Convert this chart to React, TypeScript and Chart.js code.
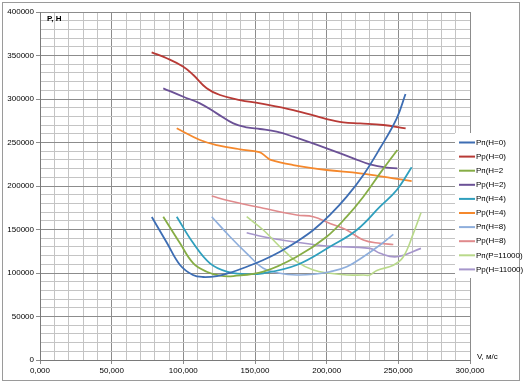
import React, { useEffect, useRef } from "react";
import { Chart, registerables } from "chart.js";

Chart.register(...registerables);

// ---- data (V in m/s units of the axis, P in N) ----
const V_PN_H0 = [78000, 88600, 97700, 106700, 113700, 123500, 132600, 144200, 155800, 167400, 179100, 190700, 202300, 214000, 225600, 237200, 248900, 255000];
const P_PN_H0 = [164400, 134500, 109200, 97700, 95400, 96500, 100300, 107200, 115000, 124500, 136000, 149400, 166700, 187700, 212600, 243300, 277800, 305700];

const V_PR_H0 = [77900, 88400, 100000, 107000, 116300, 125600, 139500, 153500, 176700, 200000, 211600, 223300, 239500, 255100];
const P_PR_H0 = [353600, 346800, 337100, 327600, 312300, 304600, 298800, 295000, 287300, 277000, 273200, 272000, 270100, 266300];

const V_PN_H2 = [86000, 97700, 107000, 116300, 125600, 134900, 155800, 179100, 200000, 214000, 225600, 237200, 249300];
const P_PN_H2 = [164700, 134100, 111100, 101500, 96900, 96500, 101500, 118700, 141700, 164700, 187700, 214500, 241400];

const V_PR_H2 = [86000, 100000, 111600, 123300, 134900, 144200, 153500, 165100, 176700, 200000, 218600, 230200, 241900, 249300];
const P_PR_H2 = [312300, 302600, 295000, 283500, 272000, 267400, 265500, 262500, 256700, 243300, 231800, 224900, 221000, 220300];

const V_PN_H4 = [95400, 107000, 118600, 130300, 141800, 155800, 179100, 202300, 221000, 237200, 248900, 259300];
const P_PN_H4 = [164700, 134100, 111100, 101500, 98800, 99700, 109200, 130200, 149400, 176200, 195400, 221500];

const V_PR_H4 = [95400, 111600, 123300, 139500, 153000, 157500, 161000, 176700, 200000, 223300, 246500, 259300];
const P_PR_H4 = [266300, 252900, 247100, 242100, 239000, 234000, 230000, 224100, 218400, 214500, 208800, 205700];

const V_PN_H8 = [119800, 132600, 144200, 155800, 167400, 179100, 190700, 202300, 214000, 225600, 237200, 246500];
const P_PN_H8 = [164700, 141700, 122600, 105400, 99700, 97700, 98500, 101500, 107200, 118700, 132200, 144500];

const V_PR_H8 = [119800, 132600, 155800, 179100, 190700, 202300, 214000, 225600, 237200, 246500];
const P_PR_H8 = [188500, 182700, 174400, 166700, 164700, 157000, 149400, 137900, 134100, 132800];

const V_PN_H11 = [144200, 155800, 167400, 179100, 190700, 202300, 214000, 225600, 230200, 235000, 246500, 253500, 260500, 265800];
const P_PN_H11 = [164700, 149400, 130200, 113000, 103400, 99700, 97700, 97700, 97700, 103000, 109000, 118700, 145500, 169300];

const V_PR_H11 = [144200, 155800, 176700, 200000, 230200, 237200, 248900, 265800];
const P_PR_H11 = [146300, 141700, 136000, 131000, 128300, 122600, 118700, 128300];

const SERIES_LABELS = [
  "Рп(Н=0)", "Рр(Н=0)", "Рп(Н=2", "Рр(Н=2)", "Рп(Н=4)",
  "Рр(Н=4)", "Рп(Н=8)", "Рр(Н=8)", "Рп(Р=11000)", "Рр(Н=11000)",
];
const SERIES_V = [V_PN_H0, V_PR_H0, V_PN_H2, V_PR_H2, V_PN_H4, V_PR_H4, V_PN_H8, V_PR_H8, V_PN_H11, V_PR_H11];
const SERIES_P = [P_PN_H0, P_PR_H0, P_PN_H2, P_PR_H2, P_PN_H4, P_PR_H4, P_PN_H8, P_PR_H8, P_PN_H11, P_PR_H11];
const SERIES_COLORS = [
  "#3d6db3", "#b83a36", "#86ad45", "#6b5196", "#2f9fbd",
  "#f5882c", "#8eaedc", "#e08a8c", "#b9d98a", "#a696cb",
];

const X_MIN = 0, X_MAX = 300000, X_STEP = 10000, X_MAJOR = 50000;
const Y_MIN = 0, Y_MAX = 400000, Y_STEP = 10000, Y_MAJOR = 50000;
const Y_TITLE = "Р, Н";
const X_TITLE = "V, м/с";

const FONT = "'Liberation Sans', Arial, sans-serif";

const fmtX = (v: number) => (v / 1000).toFixed(3).replace(".", ",");

const decorPlugin = {
  id: "decor",
  beforeDraw(chart: any) {
    const { ctx, width, height } = chart;
    ctx.save();
    ctx.fillStyle = "#ffffff";
    ctx.fillRect(0, 0, width, height);
    ctx.restore();
  },
  afterDraw(chart: any) {
    const { ctx, chartArea } = chart;
    ctx.save();
    // outer chart border
    ctx.strokeStyle = "#9a9a9a";
    ctx.lineWidth = 1;
    ctx.strokeRect(2.5, 2.5, 517, 378);
    // axis titles
    ctx.fillStyle = "#000";
    ctx.font = `bold 8px ${FONT}`;
    ctx.textBaseline = "middle";
    ctx.textAlign = "left";
    ctx.fillText(Y_TITLE, chartArea.left + 7, chartArea.top + 7);
    ctx.font = `8px ${FONT}`;
    ctx.fillText(X_TITLE, chartArea.right + 7, chartArea.bottom - 3);
    // legend
    const lx = 455, ly = 133, lw = 64, lh = 145;
    ctx.fillStyle = "#ffffff";
    ctx.fillRect(lx, ly, lw, lh);
    chart.data.datasets.forEach((ds: any, i: number) => {
      const y = 142.5 + i * 14.1;
      ctx.strokeStyle = ds.borderColor;
      ctx.lineWidth = 2;
      ctx.beginPath();
      ctx.moveTo(459, y);
      ctx.lineTo(475, y);
      ctx.stroke();
      ctx.fillStyle = "#000";
      ctx.font = `8px ${FONT}`;
      ctx.textAlign = "left";
      ctx.fillText(ds.label, 476, y);
    });
    ctx.restore();
  },
};

export default function App() {
  const ref = useRef<HTMLCanvasElement>(null);
  useEffect(() => {
    document.body.style.margin = "0";
    const canvas = ref.current!;
    const datasets = SERIES_LABELS.map((label, i) => ({
      label,
      data: SERIES_V[i].map((v, j) => ({ x: v, y: SERIES_P[i][j] })),
      borderColor: SERIES_COLORS[i],
      backgroundColor: SERIES_COLORS[i],
      borderWidth: i >= 6 ? 1.6 : 1.8,
      pointRadius: 0,
      fill: false,
      tension: 0.4,
    }));
    const gridColor = (c: any) =>
      c.tick && c.tick.value % 50000 === 0 ? "#8c8c8c" : "#c4c4c4";
    const tickColor = (c: any) =>
      c.tick && c.tick.value % 50000 === 0 ? "#8c8c8c" : "rgba(0,0,0,0)";
    const chart = new Chart(canvas, {
      type: "line",
      data: { datasets },
      plugins: [decorPlugin],
      options: {
        animation: false,
        responsive: false,
        devicePixelRatio: 1,
        layout: { padding: { left: 0, top: 12, right: 55, bottom: 0 } },
        plugins: { legend: { display: false }, tooltip: { enabled: false } },
        scales: {
          x: {
            type: "linear",
            min: X_MIN,
            max: X_MAX,
            afterFit: (s: any) => { s.height = 23; },
            afterBuildTicks: (s: any) => {
              const t = [];
              for (let v = X_MIN; v <= X_MAX; v += X_STEP) t.push({ value: v });
              s.ticks = t;
            },
            ticks: {
              autoSkip: false,
              maxRotation: 0,
              padding: 2,
              color: "#000",
              font: { family: FONT, size: 8 },
              callback: (v: any) => (v % X_MAJOR === 0 ? fmtX(v) : ""),
            },
            grid: { color: gridColor, tickColor, tickLength: 4, lineWidth: 1 },
            border: { color: "#7a7a7a" },
          },
          y: {
            type: "linear",
            min: Y_MIN,
            max: Y_MAX,
            afterFit: (s: any) => { s.width = 40; },
            afterBuildTicks: (s: any) => {
              const t = [];
              for (let v = Y_MIN; v <= Y_MAX; v += Y_STEP) t.push({ value: v });
              s.ticks = t;
            },
            ticks: {
              autoSkip: false,
              padding: 2,
              color: "#000",
              font: { family: FONT, size: 8 },
              callback: (v: any) => (v % Y_MAJOR === 0 ? String(v) : ""),
            },
            grid: { color: gridColor, tickColor, tickLength: 4, lineWidth: 1 },
            border: { color: "#7a7a7a" },
          },
        },
      },
    });
    return () => chart.destroy();
  }, []);
  return (
    <div style={{ position: "fixed", left: 0, top: 0, width: 525, height: 383 }}>
      <canvas ref={ref} width={525} height={383} style={{ width: 525, height: 383 }} />
    </div>
  );
}
